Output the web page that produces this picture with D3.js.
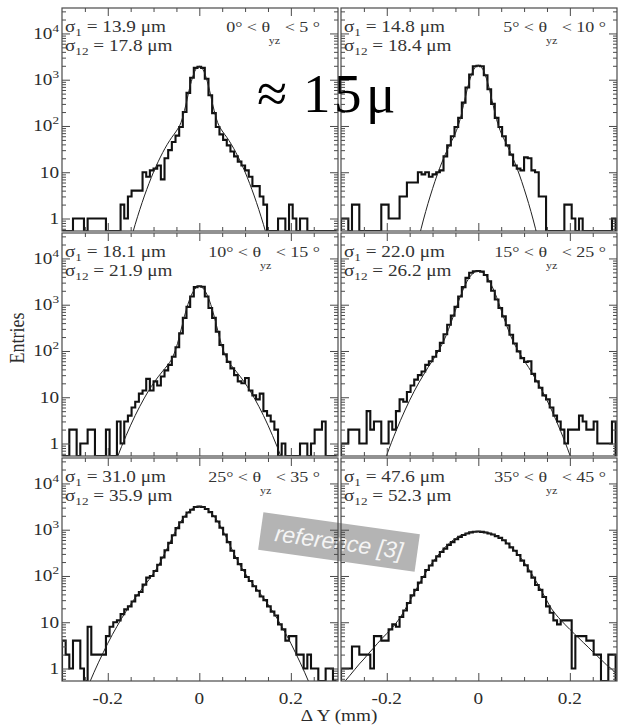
<!DOCTYPE html>
<html>
<head>
<meta charset="utf-8">
<script src="https://cdn.jsdelivr.net/npm/d3@7/dist/d3.min.js"></script>
<style>
  html, body { margin: 0; padding: 0; background: #fff; }
  svg { display: block; }
</style>
</head>
<body>
<svg id="chart" width="622" height="726"></svg>
<script>
// ΔY residual distributions in six θ_yz ranges: histogram (entries, log scale) with fit curve.

// Histogram binning: 75 bins of 0.008 mm starting at -0.3 mm
const BIN_START = -0.3;
const BIN_WIDTH = 0.008;

const THETA_LO = [0, 5, 10, 15, 25, 35];
const THETA_HI = [5, 10, 15, 25, 35, 45];
const SIGMA_1 = ["13.9", "14.8", "18.1", "22.0", "31.0", "47.6"];
const SIGMA_12 = ["17.8", "18.4", "21.9", "26.2", "35.9", "52.3"];

const entries_0_5 = [
  0,0,0,1,1,1,0,1,1,1,
  1,1,0,0,0,0,2,1,3,4,
  4,4,10,8,11,12,14,7,20,30,
  45,62,95,200,520,1100,1800,1900,1800,1050,
  460,190,95,66,50,38,28,22,17,14,
  11,8,5,5,3,2,0,0,0,1,
  1,0,2,1,0,1,1,0,0,0,
  0,0,0,0,0];
const entries_5_10 = [
  1,1,0,2,2,0,0,0,0,0,
  0,2,2,1,1,1,3,3,6,6,
  6,10,9,10,8,9,10,11,22,38,
  60,95,150,320,680,1300,1950,2000,1950,1250,
  620,300,150,95,60,38,24,14,12,11,
  21,20,11,10,3,3,0,0,0,0,
  0,2,2,1,0,1,0,0,0,0,
  0,0,0,0,1];
const entries_10_15 = [
  0,0,2,2,0,1,1,2,2,0,
  0,0,2,0,0,3,1,3,4,6,
  8,12,14,25,14,22,18,28,38,50,
  75,120,240,520,900,1500,2400,2500,2450,1500,
  850,520,260,135,85,58,42,30,22,20,
  26,14,11,9,12,5,4,3,2,0,
  1,0,0,0,0,1,1,0,1,2,
  2,3,0,0,0];
const entries_15_25 = [
  1,1,2,2,2,1,1,5,2,3,
  3,1,1,3,2,5,9,8,13,18,
  24,30,36,50,60,75,100,150,230,370,
  580,900,1500,2400,3800,4900,5300,5350,5200,4400,
  3200,2000,1300,850,560,360,225,145,98,70,
  58,60,32,22,16,11,9,6,4,3,
  2,1,2,2,2,4,3,2,2,3,
  1,1,1,1,3];
const entries_25_35 = [
  4,2,1,4,4,1,0,8,2,2,
  2,2,5,8,10,11,15,19,22,28,
  38,45,65,92,100,128,175,250,360,520,
  760,1080,1450,1900,2350,2700,3100,3150,3100,2800,
  2400,1950,1500,1100,790,540,350,245,180,135,
  95,78,60,48,36,30,22,17,14,9,
  7,4,5,5,2,2,1,2,1,1,
  0,0,1,1,0];
const entries_35_45 = [
  1,1,1,3,3,2,2,2,1,5,
  5,4,4,7,9,8,13,18,26,38,
  50,72,95,135,168,215,265,330,390,470,
  540,620,700,770,830,875,905,915,900,870,
  830,790,725,665,590,505,415,350,285,215,
  170,125,92,64,50,35,22,16,11,9,
  11,11,11,1,5,5,5,4,4,2,
  2,0,0,2,2];

// Fit curves sampled every 0.01 mm
const FIT_X = [
  -0.30,-0.29,-0.28,-0.27,-0.26,-0.25,-0.24,-0.23,-0.22,-0.21,
  -0.20,-0.19,-0.18,-0.17,-0.16,-0.15,-0.14,-0.13,-0.12,-0.11,
  -0.10,-0.09,-0.08,-0.07,-0.06,-0.05,-0.04,-0.03,-0.02,-0.01,
  0,
  0.01,0.02,0.03,0.04,0.05,0.06,0.07,0.08,0.09,0.10,
  0.11,0.12,0.13,0.14,0.15,0.16,0.17,0.18,0.19,0.20,
  0.21,0.22,0.23,0.24,0.25,0.26,0.27,0.28,0.29,0.30];
const fit_0_5 = [
  0.001,0.001,0.001,0.001,0.001,0.001,0.001,0.001,0.001,0.001,
  0.002,0.008,0.024,0.06,0.15,0.34,0.75,1.56,3.07,5.7,
  10.1,16.8,26.6,40,57,78,119,270,736,1515,
  1950,
  1515,736,270,119,78,57,40,26.6,16.8,10.1,
  5.7,3.07,1.56,0.75,0.34,0.15,0.06,0.024,0.008,0.002,
  0.001,0.001,0.001,0.001,0.001,0.001,0.001,0.001,0.001,0.001];
const fit_5_10 = [
  0.001,0.001,0.001,0.001,0.001,0.001,0.001,0.001,0.001,0.001,
  0.001,0.001,0.0015,0.005,0.017,0.052,0.146,0.38,0.93,2.1,
  4.4,8.7,15.9,27.2,43.6,70,137,356,896,1662,
  2055,
  1662,896,356,137,70,43.6,27.2,15.9,8.7,4.4,
  2.1,0.93,0.38,0.146,0.052,0.017,0.005,0.0015,0.001,0.001,
  0.001,0.001,0.001,0.001,0.001,0.001,0.001,0.001,0.001,0.001];
const fit_10_15 = [
  0.001,0.001,0.001,0.001,0.001,0.003,0.0066,0.015,0.033,0.067,
  0.134,0.257,0.477,0.855,1.48,2.49,4.05,6.35,9.65,14.2,
  20.1,27.6,36.7,48.4,68,121,285,691,1395,2162,
  2507,
  2162,1395,691,285,121,68,48.4,36.7,27.6,20.1,
  14.2,9.65,6.35,4.05,2.49,1.48,0.855,0.477,0.257,0.134,
  0.067,0.033,0.015,0.0066,0.003,0.001,0.001,0.001,0.001,0.001];
const fit_15_25 = [
  0.001,0.001,0.001,0.003,0.007,0.016,0.035,0.075,0.153,0.30,
  0.565,1.04,1.84,3.17,5.3,8.6,13.5,20.5,30.2,44,
  62,90,135,220,400,760,1450,2500,3800,4900,
  5334,
  4900,3800,2500,1450,760,400,220,135,90,62,
  44,30.2,20.5,13.5,8.6,5.3,3.17,1.84,1.04,0.565,
  0.30,0.153,0.075,0.035,0.016,0.007,0.003,0.001,0.001,0.001];
const fit_25_35 = [
  0.013,0.025,0.048,0.09,0.16,0.285,0.49,0.83,1.37,2.2,
  3.5,5.4,8.1,12,17.3,24.5,33.8,45.7,62,83,
  114.5,165,251,401,647,1017,1512,2087,2642,3050,
  3200,
  3050,2642,2087,1512,1017,647,401,251,165,114.5,
  83,62,45.7,33.8,24.5,17.3,12,8.1,5.4,3.5,
  2.2,1.37,0.83,0.49,0.285,0.16,0.09,0.048,0.025,0.013];
const fit_35_45 = [
  0.42,0.55,0.72,0.95,1.25,1.6,2.1,2.7,3.5,4.5,
  5.7,7.2,9.5,13,19,28.5,43,65,97,141,
  197,267,349,444,544,644,734,809,869,905,
  920,
  905,870,810,735,645,545,445,350,268,198,
  142,98,66,44,29,19.5,14.5,11.2,8.8,7.0,
  5.6,4.5,3.6,2.9,2.3,1.85,1.5,1.2,1.0,0.8];

const X_TICK_VALUES = [-0.2, 0, 0.2];
const X_TICK_LABELS = ["-0.2", "0", "0.2"];
const Y_DECADES = [1, 10, 100, 1000, 10000];
const Y_TICK_BASE = ["1", "10", "10", "10", "10"];
const Y_TICK_EXP = ["", "", "2", "3", "4"];

const ENTRIES = [entries_0_5, entries_5_10, entries_10_15, entries_15_25, entries_25_35, entries_35_45];
const FITS = [fit_0_5, fit_5_10, fit_10_15, fit_15_25, fit_25_35, fit_35_45];

// ---- layout ----
const COL_X = [62, 341], COL_W = 276;
const ROW_Y = [8, 233, 458], ROW_H = 223;
const X_DOMAIN = [-0.3, 0.303];
const Y_DOMAIN = [Math.pow(10, -0.27), Math.pow(10, 4.55)];
const SERIF = "'Liberation Serif', 'Times New Roman', serif";
const TEXT_STRETCH = 1.2;
const FRAME = "#4a4a4a";
const INK = "#2b2b2b";

const svg = d3.select("#chart");
svg.append("rect").attr("width", 622).attr("height", 726).attr("fill", "#fff");

// grey "reference [3]" label box
const stamp = svg.append("g").attr("transform", "translate(339,542) rotate(8)");
stamp.append("rect").attr("x", -79).attr("y", -19).attr("width", 158).attr("height", 38)
  .attr("fill", "#b4b4b4");
stamp.append("text").attr("x", 0).attr("y", 8).attr("text-anchor", "middle")
  .attr("font-family", "'Liberation Sans', Arial, sans-serif").attr("font-style", "italic")
  .attr("font-size", 23).attr("fill", "#f5f5f5").text("reference [3]");

function stretchedText(parent, x, y, anchor, size) {
  return parent.append("g")
    .attr("transform", `translate(${x},${y}) scale(${TEXT_STRETCH},1)`)
    .append("text")
    .attr("text-anchor", anchor)
    .attr("font-family", SERIF)
    .attr("font-size", size)
    .attr("fill", INK);
}

const xMinor = d3.range(-5, 6).map(i => i * 0.05).filter(v => Math.abs(v) > 1e-9 && Math.abs(Math.abs(v) - 0.2) > 1e-9);
const yMinor = [];
[0.1, 1, 10, 100, 1000, 10000].forEach(d => {
  for (let m = 2; m <= 9; m++) {
    const v = m * d;
    if (v > Y_DOMAIN[0] && v < Y_DOMAIN[1]) yMinor.push(v);
  }
});

ENTRIES.forEach((counts, i) => {
  const col = i % 2, row = Math.floor(i / 2);
  const x0 = COL_X[col], y0 = ROW_Y[row];
  const x = d3.scaleLinear().domain(X_DOMAIN).range([x0, x0 + COL_W]);
  const y = d3.scaleLog().domain(Y_DOMAIN).range([y0 + ROW_H, y0]);
  const yMin = Y_DOMAIN[0];

  const g = svg.append("g");
  const clipId = "clip" + i;
  g.append("clipPath").attr("id", clipId)
    .append("rect").attr("x", x0).attr("y", y0).attr("width", COL_W).attr("height", ROW_H);

  // histogram outline
  const pts = [[BIN_START, yMin]];
  counts.forEach((c, k) => {
    const lo = BIN_START + k * BIN_WIDTH;
    const v = Math.max(c, yMin);
    pts.push([lo, v], [lo + BIN_WIDTH, v]);
  });
  pts.push([BIN_START + counts.length * BIN_WIDTH, yMin]);
  const stepLine = d3.line().x(d => x(d[0])).y(d => y(d[1]));
  g.append("path").attr("d", stepLine(pts))
    .attr("clip-path", `url(#${clipId})`)
    .attr("fill", "none").attr("stroke", "#111").attr("stroke-width", 2.1)
    .attr("stroke-linejoin", "miter");

  // fit curve
  const fitLine = d3.line().x((d, k) => x(FIT_X[k])).y(d => y(d)).curve(d3.curveMonotoneX);
  g.append("path").attr("d", fitLine(FITS[i]))
    .attr("clip-path", `url(#${clipId})`)
    .attr("fill", "none").attr("stroke", "#222").attr("stroke-width", 1);

  // ticks on all four sides, pointing inward
  const styleAxis = sel => {
    sel.select(".domain").remove();
    sel.selectAll(".tick line").attr("stroke", FRAME).attr("stroke-width", 1);
  };
  const addAxis = (axis, tx, ty) => g.append("g").attr("transform", `translate(${tx},${ty})`).call(axis).call(styleAxis);
  addAxis(d3.axisBottom(x).tickValues(X_TICK_VALUES).tickSize(-8).tickFormat(""), 0, y0 + ROW_H);
  addAxis(d3.axisBottom(x).tickValues(xMinor).tickSize(-4).tickFormat(""), 0, y0 + ROW_H);
  addAxis(d3.axisTop(x).tickValues(X_TICK_VALUES).tickSize(-8).tickFormat(""), 0, y0);
  addAxis(d3.axisTop(x).tickValues(xMinor).tickSize(-4).tickFormat(""), 0, y0);
  addAxis(d3.axisLeft(y).tickValues(Y_DECADES).tickSize(-8).tickFormat(""), x0, 0);
  addAxis(d3.axisLeft(y).tickValues(yMinor).tickSize(-4).tickFormat(""), x0, 0);
  addAxis(d3.axisRight(y).tickValues(Y_DECADES).tickSize(-8).tickFormat(""), x0 + COL_W, 0);
  addAxis(d3.axisRight(y).tickValues(yMinor).tickSize(-4).tickFormat(""), x0 + COL_W, 0);

  // frame
  g.append("rect").attr("x", x0).attr("y", y0).attr("width", COL_W).attr("height", ROW_H)
    .attr("fill", "none").attr("stroke", FRAME).attr("stroke-width", 1.2);

  // resolution annotations
  const s1 = stretchedText(g, x0 + 3, y0 + 23.5, "start", 16).attr("fill", "#333");
  s1.append("tspan").text("σ");
  s1.append("tspan").attr("font-size", 11).attr("dy", 4).text("1");
  s1.append("tspan").attr("dy", -4).text(" = " + SIGMA_1[i] + " μm");
  const s2 = stretchedText(g, x0 + 3, y0 + 43, "start", 16).attr("fill", "#333");
  s2.append("tspan").text("σ");
  s2.append("tspan").attr("font-size", 11).attr("dy", 4).text("12");
  s2.append("tspan").attr("dy", -4).text(" = " + SIGMA_12[i] + " μm");

  // angular range
  const th = stretchedText(g, x0 + (col === 0 ? 258 : 265), y0 + 23.5, "end", 15).attr("fill", "#333");
  th.append("tspan").text(`${THETA_LO[i]}° < θ`);
  th.append("tspan").attr("font-size", 10).attr("dy", 13).attr("dx", -1).text("yz");
  th.append("tspan").attr("dy", -13).text(` < ${THETA_HI[i]} °`);

  // y tick labels on the left column
  if (col === 0) {
    Y_DECADES.forEach((v, k) => {
      const t = stretchedText(svg, x0 - 3, y(v) + 5.5, "end", 16);
      t.append("tspan").text(Y_TICK_BASE[k]);
      if (Y_TICK_EXP[k]) t.append("tspan").attr("font-size", 11).attr("dy", -7).text(Y_TICK_EXP[k]);
    });
  }
  // x tick labels on the bottom row
  if (row === 2) {
    X_TICK_VALUES.forEach((v, k) => {
      stretchedText(svg, x(v), 704, "middle", 16).text(X_TICK_LABELS[k]);
    });
  }
});

// axis titles
svg.append("g").attr("transform", `translate(24,338) scale(${TEXT_STRETCH},1) rotate(-90)`)
  .append("text").attr("text-anchor", "middle").attr("font-family", SERIF)
  .attr("font-size", 18).attr("fill", INK).text("Entries");
stretchedText(svg, 339, 721, "middle", 16).text("Δ Y (mm)");

// large resolution note
const note = svg.append("text").attr("font-family", SERIF).attr("font-size", 55).attr("fill", "#000");
note.append("tspan").attr("x", 257).attr("y", 112).text("≈");
note.append("tspan").attr("x", 303).attr("y", 112).text("1");
note.append("tspan").attr("x", 334).attr("y", 112).text("5");
note.append("tspan").attr("x", 366).attr("y", 112).text("μ");
</script>
</body>
</html>
